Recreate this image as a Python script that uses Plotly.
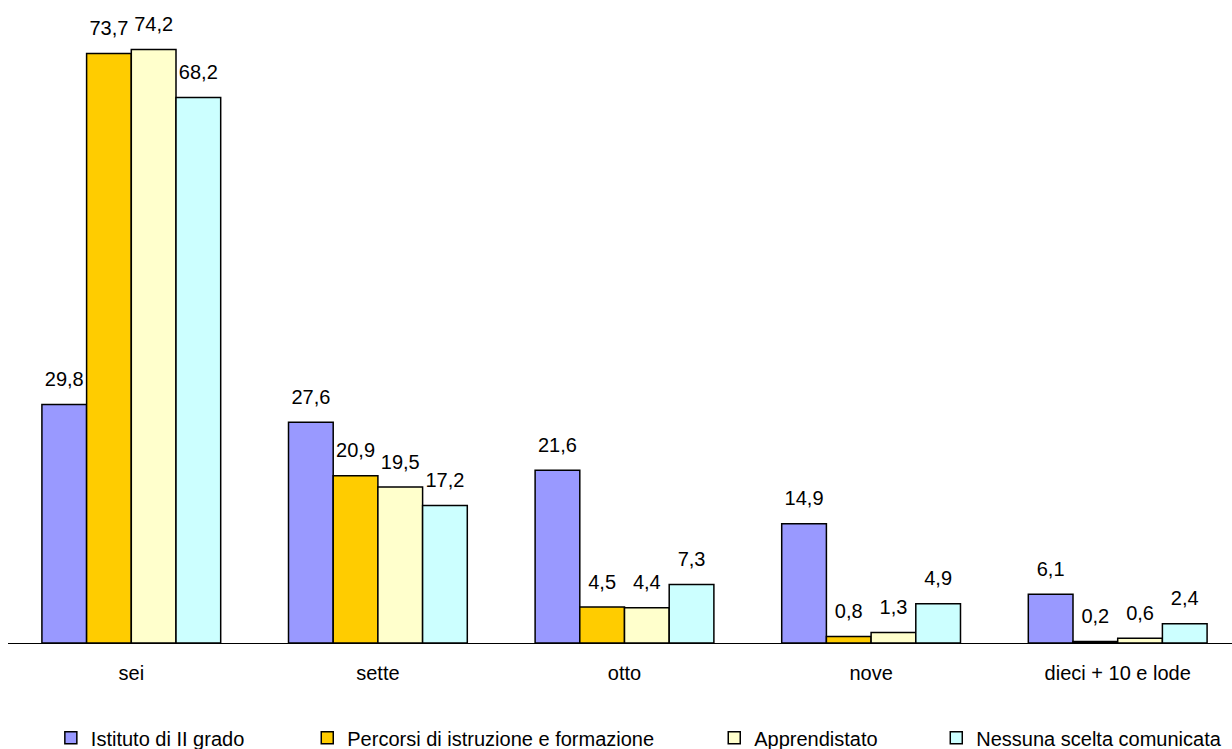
import plotly.graph_objects as go

## Dati
categorie = ['sei', 'sette', 'otto', 'nove', 'dieci + 10 e lode']
serie = ['Istituto di II grado', 'Percorsi di istruzione e formazione',
         'Apprendistato', 'Nessuna scelta comunicata']
istituto = [29.8, 27.6, 21.6, 14.9, 6.1]
percorsi = [73.7, 20.9, 4.5, 0.8, 0.2]
apprendistato = [74.2, 19.5, 4.4, 1.3, 0.6]
nessuna = [68.2, 17.2, 7.3, 4.9, 2.4]

valori = [istituto, percorsi, apprendistato, nessuna]
colori = ['#9999FF', '#FFCC00', '#FFFFCC', '#CCFFFF']
legend_x = [0.035, 0.2445, 0.577, 0.7584]  # posizione di ogni voce di legenda

FONT = 'Liberation Sans, Arial, sans-serif'

fig = go.Figure()
for i, (nome, val, col) in enumerate(zip(serie, valori, colori)):
    leg = 'legend' if i == 0 else 'legend%d' % (i + 1)
    fig.add_trace(go.Bar(
        x=categorie, y=val, name=nome, marker_color=col,
        marker_line_color='black', marker_line_width=1.5,
        offsetgroup=str(i), legend=leg))
    # etichette dei valori sopra le barre
    fig.add_trace(go.Scatter(
        x=categorie, y=val, mode='markers+text', offsetgroup=str(i),
        text=[('%.1f' % v).replace('.', ',') for v in val],
        textposition='top center', textfont=dict(size=20, color='black', family=FONT),
        marker=dict(size=20, opacity=0), showlegend=False, hoverinfo='skip',
        cliponaxis=False))

layout_legends = {}
for i in range(4):
    key = 'legend' if i == 0 else 'legend%d' % (i + 1)
    layout_legends[key] = dict(
        x=legend_x[i], y=-0.148, xanchor='left', yanchor='middle',
        orientation='h', itemwidth=30, bgcolor='rgba(0,0,0,0)',
        font=dict(size=20, family=FONT, color='black'))

fig.update_layout(
    barmode='group', bargap=0.275, bargroupgap=0,
    scattermode='group', scattergap=0.275,
    width=1232, height=749,
    margin=dict(l=8, r=0, t=3, b=106, autoexpand=False),
    plot_bgcolor='white', paper_bgcolor='white',
    font=dict(family=FONT, color='black'),
    xaxis=dict(range=[-0.5, 4.4635], showline=True, linecolor='black', linewidth=1,
               ticks='', ticklabelstandoff=12, tickfont=dict(size=20), showgrid=False),
    yaxis=dict(range=[0, 80], visible=False, showgrid=False, zeroline=False),
    **layout_legends)

fig.write_html('out.html', config={'displayModeBar': False},
               post_script="document.body.style.margin='0';")
